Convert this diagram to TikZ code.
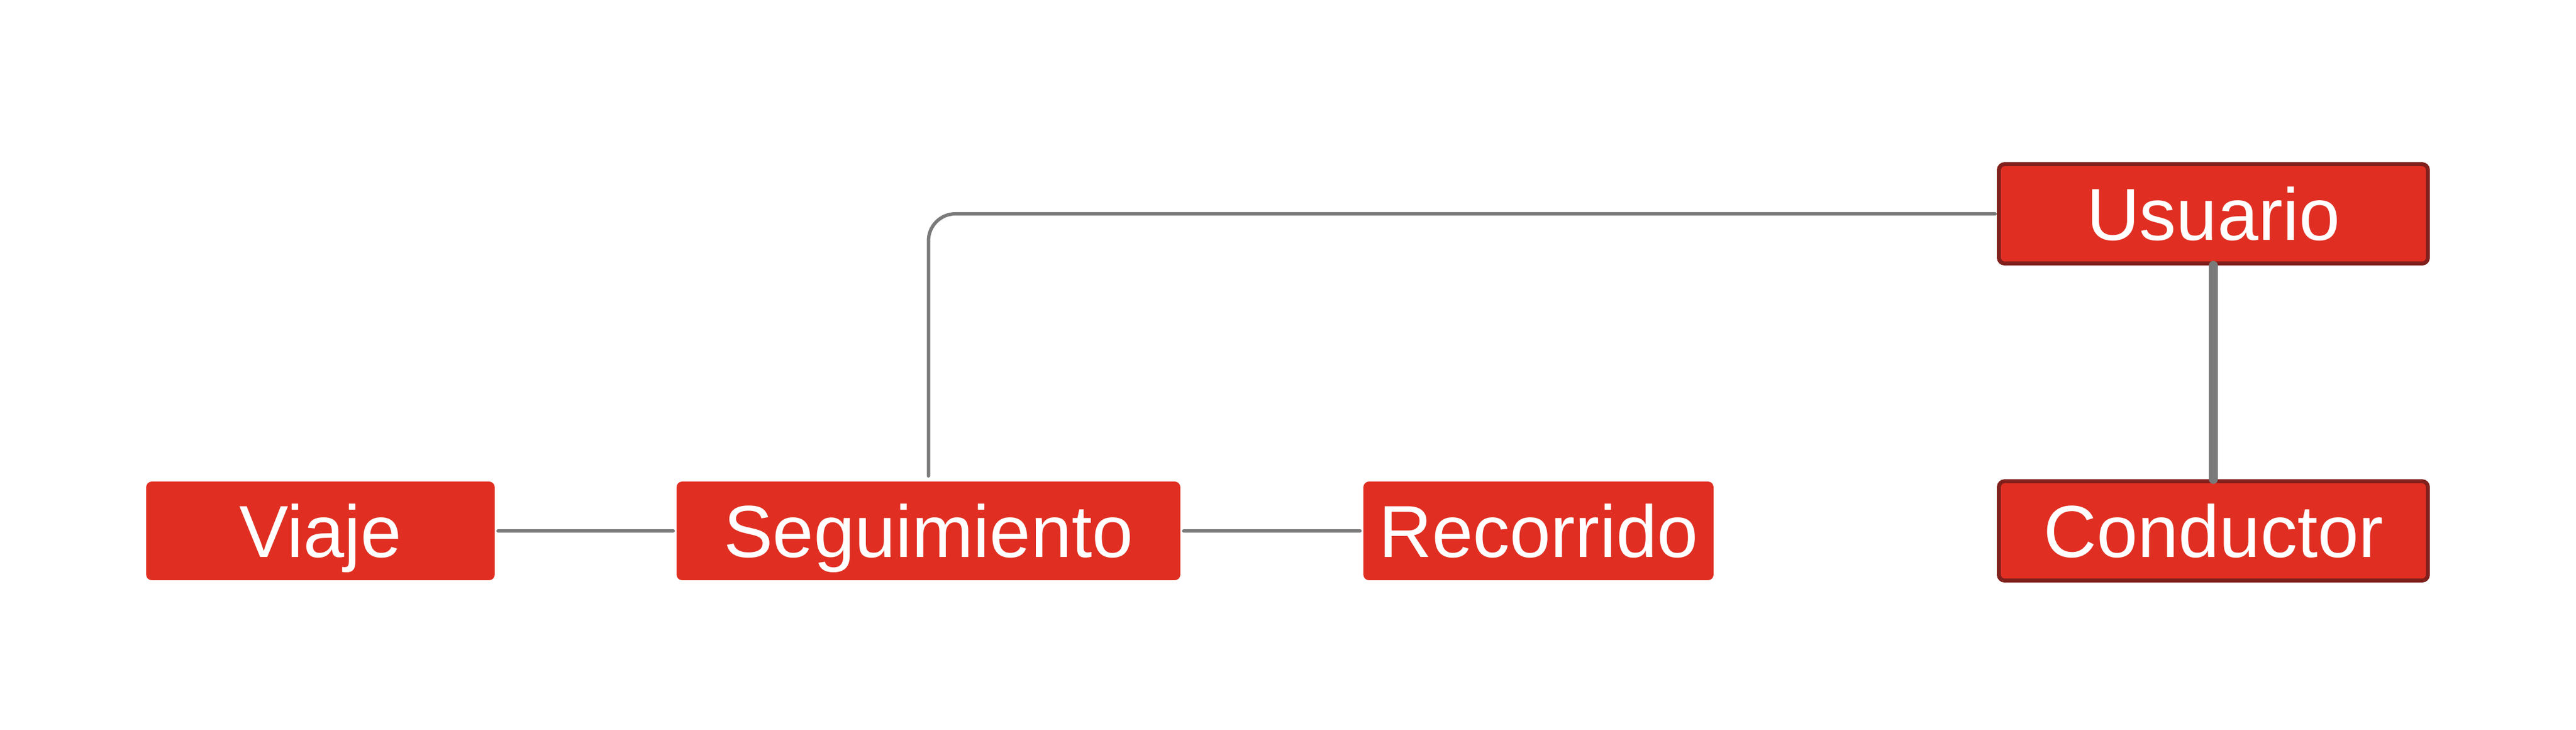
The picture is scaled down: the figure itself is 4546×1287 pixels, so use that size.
\documentclass[tikz,border=0pt]{standalone}
\usepackage{fontspec}
\setmainfont{Liberation Sans}
\definecolor{boxred}{HTML}{E02F22}
\definecolor{boxedge}{HTML}{80201C}
\definecolor{linkgray}{HTML}{7A7A7A}
\begin{document}
\begin{tikzpicture}[x=0.2pt,y=-0.2pt,
  entity/.style={rectangle, rounded corners=2pt, fill=boxred, text=white,
    font=\fontsize{26pt}{30pt}\selectfont, text height=18.6pt, text depth=0pt,
    inner sep=0pt, minimum height=34.8pt},
  keyent/.style={entity, draw=boxedge, line width=1.4pt, minimum height=35pt},
  link/.style={draw=linkgray, line width=1.2pt, line cap=round}]
\useasboundingbox (0,0) rectangle (4546,1287);
\node[entity, minimum width=123pt] (viaje) at (565.5,936) {Viaje};
\node[entity, minimum width=177.8pt] (seg) at (1638.5,936) {Seguimiento};
\node[entity, minimum width=123.6pt] (reco) at (2715,936) {Recorrido};
\node[keyent, minimum width=151.4pt] (usuario) at (3906,377) {Usuario};
\node[keyent, minimum width=151.4pt] (conductor) at (3906,936) {Conductor};
\draw[link, shorten <=1pt, shorten >=1pt] (viaje) -- (seg);
\draw[link, shorten <=1pt, shorten >=1pt] (seg) -- (reco);
\draw[link, rounded corners=9.5pt, shorten <=0.6pt, shorten >=1.8pt] (usuario.west) -| (seg.north);
\draw[link, line width=3.2pt] (usuario.south) -- (conductor.north);
\end{tikzpicture}
\end{document}
